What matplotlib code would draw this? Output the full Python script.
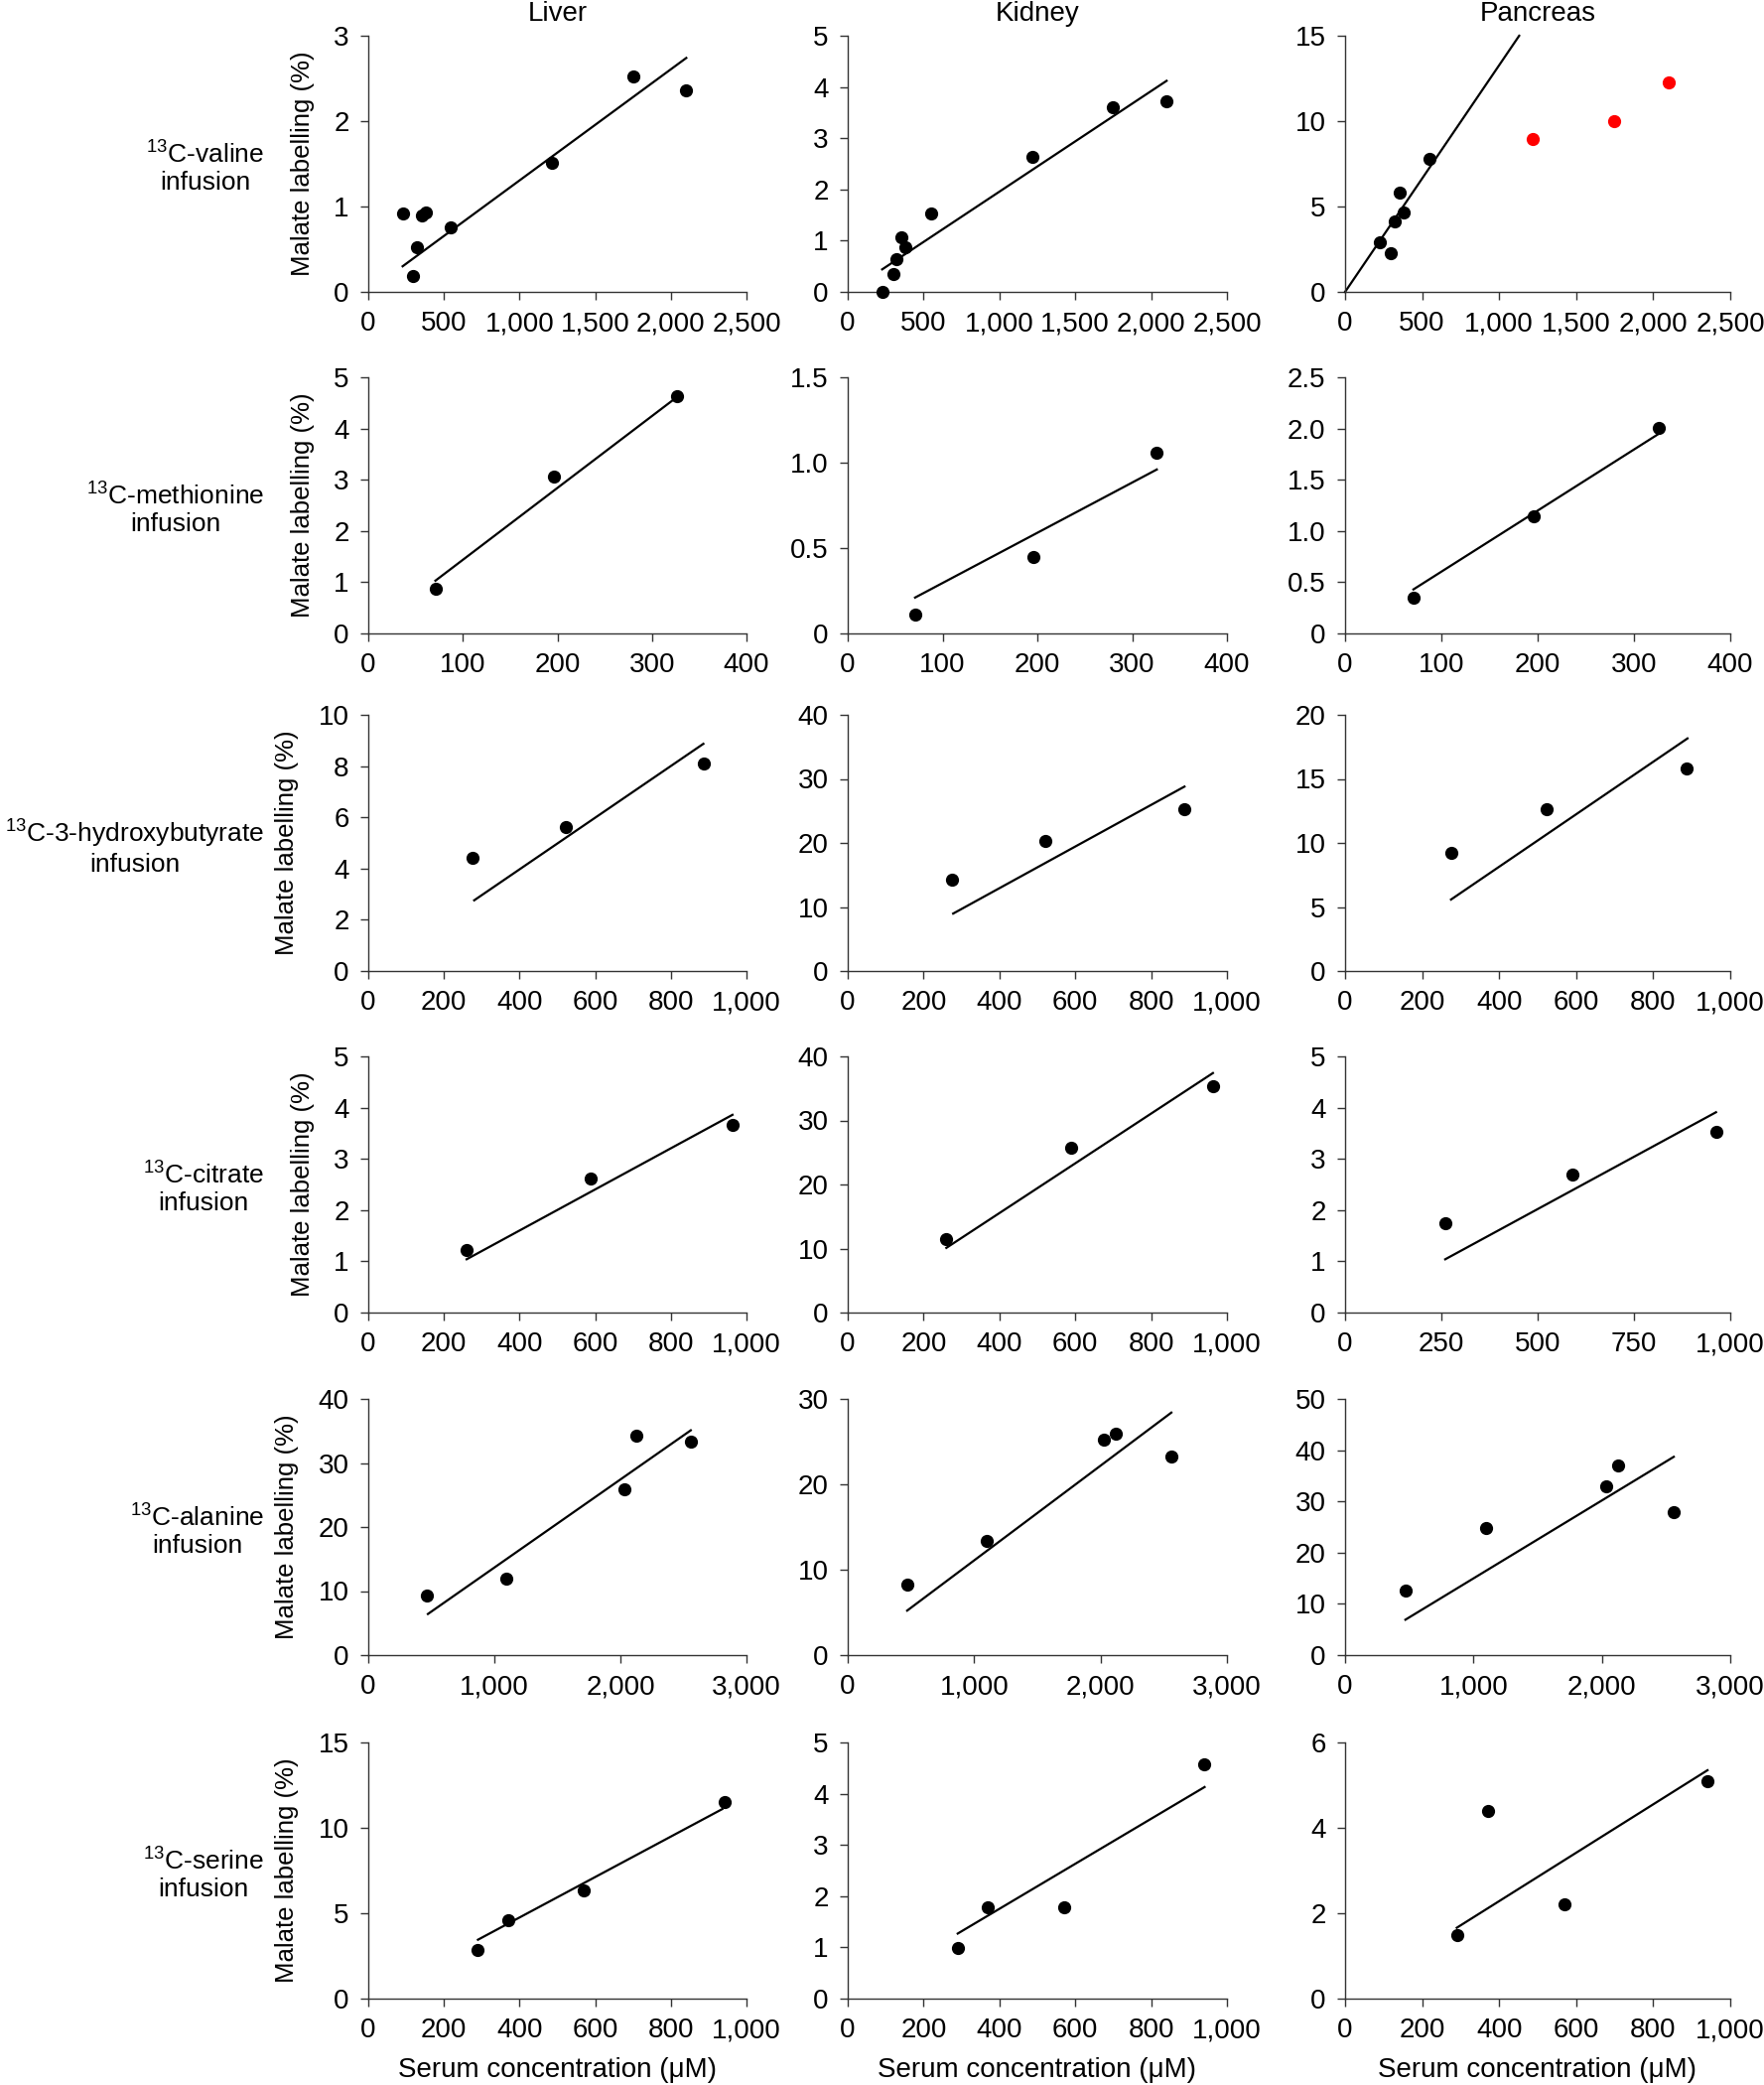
import numpy as np
import matplotlib
matplotlib.use("Agg")
import matplotlib.pyplot as plt
from matplotlib.ticker import FuncFormatter

plt.rcParams['font.family'] = ['Liberation Sans Narrow', 'Liberation Sans', 'DejaVu Sans']
plt.rcParams['mathtext.fontset'] = 'custom'
plt.rcParams['mathtext.rm'] = 'Liberation Sans'
plt.rcParams['mathtext.default'] = 'regular'

tissues = ['Liver', 'Kidney', 'Pancreas']
infusions = ['valine', 'methionine', '3-hydroxybutyrate', 'citrate', 'alanine', 'serine']

# serum concentrations (uM) per infusion
valine_x = [227, 298, 320, 353, 380, 547, 1217, 1749, 2102]
methionine_x = [71, 196, 326]
hb_x = [275, 522, 887]
citrate_x = [260, 589, 963]
alanine_x = [468, 1097, 2030, 2123, 2559]
serine_x = [290, 370, 570, 941]

# malate labelling (%) liver / kidney / pancreas
valine_y = [[0.92, 0.19, 0.52, 0.90, 0.93, 0.76, 1.51, 2.52, 2.36],
            [0.0, 0.35, 0.64, 1.07, 0.88, 1.54, 2.64, 3.60, 3.73],
            [2.92, 2.27, 4.13, 5.80, 4.65, 7.80, 8.97, 10.02, 12.27]]
methionine_y = [[0.87, 3.06, 4.63],
                [0.11, 0.45, 1.06],
                [0.35, 1.14, 2.01]]
hb_y = [[4.42, 5.62, 8.12],
        [14.2, 20.3, 25.2],
        [9.23, 12.66, 15.83]]
citrate_y = [[1.22, 2.61, 3.67],
             [11.4, 25.7, 35.4],
             [1.75, 2.69, 3.53]]
alanine_y = [[9.27, 12.0, 25.85, 34.3, 33.3],
             [8.28, 13.37, 25.2, 25.9, 23.2],
             [12.55, 24.8, 32.9, 37.1, 28.0]]
serine_y = [[2.87, 4.57, 6.36, 11.53],
            [0.99, 1.79, 1.79, 4.58],
            [1.50, 4.39, 2.20, 5.09]]

# pancreas valine points left out of the fit (drawn red)
valine_pancreas_excluded = [False] * 6 + [True] * 3

# regression line end points (x0, y0, x1, y1)
valine_fit = [(227, 0.30, 2102, 2.74), (227, 0.44, 2102, 4.12), (0, 0, 1130, 15)]
methionine_fit = [(71, 1.03, 324, 4.58), (71, 0.21, 326, 0.96), (71, 0.43, 326, 1.95)]
hb_fit = [(280, 2.76, 886, 8.87), (278, 8.97, 888, 28.8), (275, 5.58, 889, 18.16)]
citrate_fit = [(260, 1.04, 963, 3.86), (260, 10.1, 963, 37.4), (260, 1.04, 963, 3.91)]
alanine_fit = [(473, 6.42, 2558, 35.1), (470, 5.21, 2560, 28.4), (470, 6.91, 2560, 38.7)]
serine_fit = [(290, 3.45, 936, 11.1), (290, 1.27, 941, 4.13), (290, 1.66, 941, 5.35)]

# axis ranges: (max, step)
x_axes = [[(2500, 500)] * 3,
          [(400, 100)] * 3,
          [(1000, 200)] * 3,
          [(1000, 200), (1000, 200), (1000, 250)],
          [(3000, 1000)] * 3,
          [(1000, 200)] * 3]
y_axes = [[(3, 1), (5, 1), (15, 5)],
          [(5, 1), (1.5, 0.5), (2.5, 0.5)],
          [(10, 2), (40, 10), (20, 5)],
          [(5, 1), (40, 10), (5, 1)],
          [(40, 10), (30, 10), (50, 10)],
          [(15, 5), (5, 1), (6, 2)]]

xs = [valine_x, methionine_x, hb_x, citrate_x, alanine_x, serine_x]
ys = [valine_y, methionine_y, hb_y, citrate_y, alanine_y, serine_y]
fits = [valine_fit, methionine_fit, hb_fit, citrate_fit, alanine_fit, serine_fit]


def fmt(v, pos, dec):
    if v == 0:
        return '0'
    if dec:
        return '{:.1f}'.format(v)
    return '{:,.0f}'.format(v)


W, H = 1777, 2100
fig = plt.figure(figsize=(W / 100, H / 100), dpi=100)

col_left = [371, 854, 1355]
col_w = [381, 382, 388]
row_top = [36, 380, 720, 1064, 1409, 1755]
row_h = 258
tick_fs = 20

for r in range(6):
    for c in range(3):
        ax = fig.add_axes([col_left[c] / W, 1 - (row_top[r] + row_h) / H,
                           col_w[c] / W, row_h / H])
        x = np.array(xs[r])
        y = np.array(ys[r][c])
        if r == 0 and c == 2:
            excl = np.array(valine_pancreas_excluded)
            ax.plot(x[~excl], y[~excl], 'o', color='black', ms=8.5, clip_on=False, zorder=3)
            ax.plot(x[excl], y[excl], 'o', color='red', ms=8.5, clip_on=False, zorder=3)
        else:
            ax.plot(x, y, 'o', color='black', ms=8.5, clip_on=False, zorder=3)
        x0, y0, x1, y1 = fits[r][c]
        ax.plot([x0, x1], [y0, y1], color='black', lw=1.6, clip_on=False)

        xmax, xstep = x_axes[r][c]
        ymax, ystep = y_axes[r][c]
        ax.set_xlim(0, xmax)
        ax.set_ylim(0, ymax)
        ax.set_xticks(np.arange(0, xmax + xstep / 2, xstep))
        ax.set_yticks(np.arange(0, ymax + ystep / 2, ystep))
        ydec = ystep < 1
        ax.xaxis.set_major_formatter(FuncFormatter(lambda v, p: fmt(v, p, False)))
        ax.yaxis.set_major_formatter(FuncFormatter(lambda v, p, d=ydec: fmt(v, p, d)))
        for s in ['top', 'right']:
            ax.spines[s].set_visible(False)
        for s in ['left', 'bottom']:
            ax.spines[s].set_linewidth(1.0)
            ax.spines[s].set_color('#333333')
        ax.tick_params(direction='out', length=6, width=1.0, color='#333333',
                       labelsize=tick_fs, pad=8)

        if c == 0:
            ax.set_ylabel('Malate labelling (%)', family=['Liberation Sans', 'DejaVu Sans'],
                          fontsize=18.5, labelpad=14)
            fig.text(266 / W, 1 - (row_top[r] + row_h / 2 + 4) / H,
                     '$^{13}$C-' + infusions[r] + '\ninfusion', ha='right', va='center',
                     multialignment='center', fontsize=19, linespacing=1.15)
        if r == 0:
            fig.text((col_left[c] + col_w[c] / 2) / W, 1 - 1 / H, tissues[c],
                     ha='center', va='top', fontsize=tick_fs)
        if r == 5:
            fig.text((col_left[c] + col_w[c] / 2) / W, 1 - 2085 / H,
                     'Serum concentration (\u03bcM)', ha='center', va='center',
                     fontsize=tick_fs)

fig.savefig('out.png', dpi=100)
